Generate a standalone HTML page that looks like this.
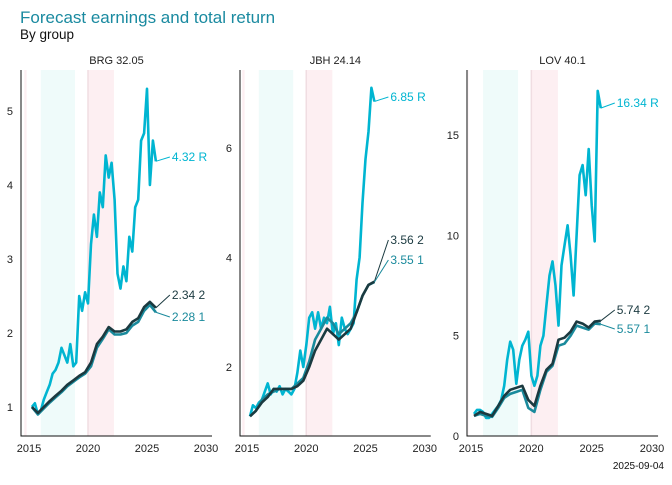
<!DOCTYPE html>
<html><head><meta charset="utf-8">
<style>
body{margin:0;background:#fff;font-family:"Liberation Sans",sans-serif;}
svg text{font-family:"Liberation Sans",sans-serif;}
</style></head>
<body>
<svg id="chart" width="672" height="480" viewBox="0 0 672 480" xmlns="http://www.w3.org/2000/svg">
<rect x="0" y="0" width="672" height="480" fill="#fff"/>
<text x="20" y="23" font-size="17" fill="#1a8aa0">Forecast earnings and total return</text>
<text x="20" y="39" font-size="13.5" fill="#111">By group</text>
<text x="664" y="469" font-size="10" text-anchor="end" fill="#111">2025-09-04</text>
<g id="panels"></g>
</svg>
<script>
const datesQ = [];
for (let i = 0; i < 43; i++) datesQ.push(2015.25 + i * 0.25);
const datesH = [];
for (let i = 0; i < 22; i++) datesH.push(2015.25 + i * 0.5);

const panelNames = ["BRG 32.05", "JBH 24.14", "LOV 40.1"];
const xTicks = [2015, 2020, 2025, 2030];
const bandsCyan = [[2016.0, 2018.9]];
const bandsPink = [[2014.6, 2014.8], [2020.0, 2022.2]];

const brgR = [1.0,1.05,0.9,0.95,1.1,1.2,1.3,1.45,1.5,1.6,1.8,1.7,1.6,1.85,1.55,1.6,2.5,2.3,2.55,2.4,3.2,3.6,3.3,3.9,3.7,4.4,4.1,4.3,3.8,2.8,2.6,2.9,2.7,3.3,3.1,3.7,3.8,4.6,4.7,5.3,4.0,4.6,4.32];
const brg2 = [1.0,0.92,1.0,1.08,1.15,1.22,1.3,1.36,1.42,1.47,1.6,1.85,1.95,2.08,2.02,2.02,2.05,2.15,2.2,2.35,2.42,2.34];
const brg1 = [1.0,0.9,0.98,1.06,1.13,1.2,1.28,1.34,1.4,1.45,1.55,1.8,1.92,2.05,1.98,1.98,2.0,2.1,2.15,2.3,2.38,2.28];
const jbhR = [1.1,1.3,1.25,1.35,1.4,1.55,1.7,1.5,1.6,1.55,1.65,1.5,1.6,1.55,1.5,1.6,1.9,2.3,2.0,2.4,2.9,3.0,2.7,3.0,2.7,2.9,2.8,3.1,2.6,2.8,2.4,2.9,2.7,2.6,2.7,2.8,3.6,4.0,5.0,5.8,6.3,7.1,6.85];
const jbh2 = [1.1,1.2,1.35,1.45,1.6,1.6,1.6,1.6,1.65,1.75,2.0,2.3,2.5,2.7,2.6,2.5,2.6,2.7,3.0,3.3,3.5,3.56];
const jbh1 = [1.1,1.2,1.4,1.5,1.55,1.6,1.6,1.6,1.7,1.8,2.1,2.5,2.7,2.9,2.8,2.6,2.7,2.8,3.0,3.3,3.5,3.55];
const lovR = [1.1,1.3,1.3,1.2,0.9,0.9,1.1,1.3,1.5,1.8,2.5,3.8,4.7,4.3,2.6,3.8,4.5,4.8,5.2,3.0,2.5,3.0,4.5,5.0,6.5,8.0,8.7,7.5,5.5,8.5,9.5,10.5,9.0,7.0,10.0,13.0,13.5,12.0,14.3,11.5,9.7,17.2,16.34];
const lov2 = [1.0,1.2,1.1,1.0,1.5,2.0,2.3,2.4,2.5,1.8,1.5,2.5,3.3,3.6,4.8,4.9,5.2,5.7,5.6,5.4,5.7,5.74];
const lov1 = [1.0,1.1,1.0,0.95,1.4,1.9,2.1,2.2,2.3,1.4,1.2,2.3,3.2,3.5,4.5,4.6,5.0,5.5,5.4,5.3,5.6,5.57];

const yTicksBRG = [1,2,3,4,5];
const yTicksJBH = [2,4,6];
const yTicksLOV = [0,5,10,15];
const endLabelsBRG = ["4.32 R","2.34 2","2.28 1"];
const endLabelsJBH = ["6.85 R","3.56 2","3.55 1"];
const endLabelsLOV = ["16.34 R","5.74 2","5.57 1"];

const NS = "http://www.w3.org/2000/svg";
const root = document.getElementById("panels");
function mk(tag, attrs, parent){const e=document.createElementNS(NS,tag);for(const k in attrs)e.setAttribute(k,attrs[k]);parent.appendChild(e);return e;}

const COL_R="#00b5d1", COL_1="#1a8a9c", COL_2="#1b3a40";

const panelCfg = [
 {name:panelNames[0], axisX:21, x2015:29, perYear:11.8, yA:1, pA:407, yB:5, pB:111, yt:yTicksBRG, R:brgR, s2:brg2, s1:brg1, labels:endLabelsBRG, labY:[161,299,321]},
 {name:panelNames[1], axisX:240, x2015:247, perYear:11.85, yA:2, pA:367, yB:6, pB:148, yt:yTicksJBH, R:jbhR, s2:jbh2, s1:jbh1, labels:endLabelsJBH, labY:[101,244,264]},
 {name:panelNames[2], axisX:467, x2015:471, perYear:12.07, yA:0, pA:436, yB:15, pB:135, yt:yTicksLOV, R:lovR, s2:lov2, s1:lov1, labels:endLabelsLOV, labY:[107,314,333]}
];
const TOP=70, BOT=436;

panelCfg.forEach((c, pi) => {
  const g = mk("g", {}, root);
  
  
  const xs = v => c.x2015 + (v - 2015) * c.perYear;
  const ys = v => c.pA + (v - c.yA) * (c.pB - c.pA) / (c.yB - c.yA);
  const right = xs(2030) + 6;
  bandsPink.forEach(b => {
    const r = mk("rect", {x:Math.max(xs(b[0]),c.axisX+1), y:TOP, width:xs(b[1])-Math.max(xs(b[0]),c.axisX+1), height:BOT-TOP, fill:"#fdeff2"}, g);
    
    
  });
  bandsCyan.forEach(b => {
    const r = mk("rect", {x:xs(b[0]), y:TOP, width:xs(b[1])-xs(b[0]), height:BOT-TOP, fill:"#effbfa"}, g);
    
    
  });
  mk("line",{x1:xs(2020),x2:xs(2020),y1:TOP,y2:BOT,stroke:"#f0dde2","stroke-width":1.5},g);
  const t = mk("text",{x:(c.axisX+right)/2,y:64,"font-size":11,"text-anchor":"middle",fill:"#222"},g);
  t.textContent = c.name;
  
  
  const ax = mk("path",{d:`M${c.axisX},${TOP} V${BOT} H${right}`,fill:"none",stroke:"#111","stroke-width":1},g);
  
  
  c.yt.forEach(v => {
    const tt = mk("text",{x:c.axisX-8,y:ys(v)+4,"font-size":11,"text-anchor":"end",fill:"#222"},g);
    tt.textContent = v;
    
    
  });
  xTicks.forEach(v => {
    const tt = mk("text",{x:xs(v),y:452,"font-size":11,"text-anchor":"middle",fill:"#222"},g);
    tt.textContent = v;
    
    
  });
  const series = [[c.R, datesQ, COL_R, "series-total-return"],[c.s1, datesH, COL_1, "series-earnings-1"],[c.s2, datesH, COL_2, "series-earnings-2"]];
  series.forEach(s => {
    const d = s[0].map((v,i)=>(i?"L":"M")+xs(s[1][i]).toFixed(1)+","+ys(v).toFixed(1)).join(" ");
    const p = mk("path",{d:d,fill:"none",stroke:s[2],"stroke-width":2.6,"stroke-linejoin":"round"},g);
    
    
  });
  const ends = [[c.R, datesQ, COL_R],[c.s2, datesH, COL_2],[c.s1, datesH, COL_1]];
  ends.forEach((s,i) => {
    const ex = xs(s[1][s[1].length-1]), ey = ys(s[0][s[0].length-1]);
    const lx = ex + 16, ly = c.labY[i];
    mk("path",{d:`M${ex},${ey} L${lx-2},${ly-4}`,stroke:s[2],"stroke-width":1,fill:"none"},g);
    const lt = mk("text",{x:lx,y:ly,"font-size":12,fill:s[2]},g);
    lt.textContent = c.labels[i];
    
    
  });
});
</script>
</body></html>
